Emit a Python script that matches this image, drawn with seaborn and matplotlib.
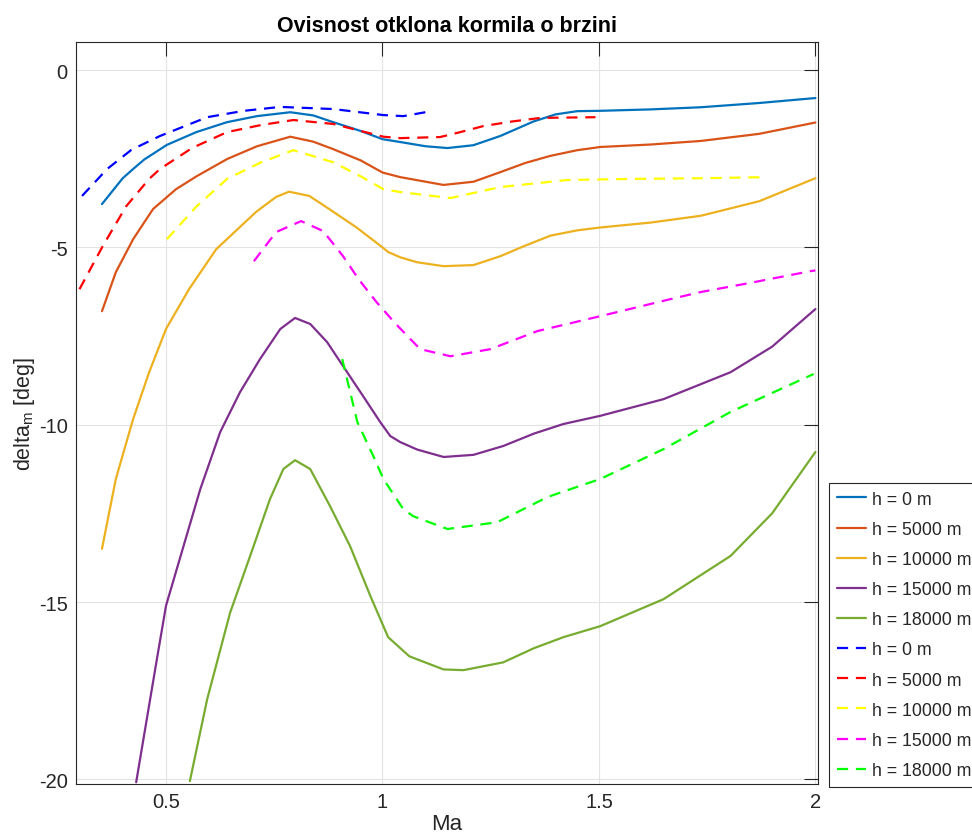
"""Rudder deflection vs Mach number for several altitudes."""

import matplotlib

matplotlib.use("Agg")
import matplotlib.pyplot as plt
import seaborn as sns

# solid curves (model 1)
ma_h0 = [0.352, 0.40, 0.424, 0.45, 0.502, 0.57, 0.641, 0.71, 0.787, 0.84, 0.886, 0.95, 1.0, 1.041, 1.10, 1.150, 1.21, 1.272, 1.349, 1.40, 1.450, 1.503, 1.62, 1.735, 1.87, 2.0]
dm_h0 = [-3.78, -3.05, -2.79, -2.52, -2.11, -1.75, -1.47, -1.30, -1.19, -1.28, -1.47, -1.72, -1.95, -2.03, -2.15, -2.20, -2.12, -1.86, -1.45, -1.25, -1.16, -1.15, -1.11, -1.05, -0.93, -0.79]

ma_h5 = [0.352, 0.384, 0.424, 0.470, 0.523, 0.57, 0.641, 0.71, 0.787, 0.84, 0.886, 0.95, 1.0, 1.041, 1.141, 1.21, 1.272, 1.330, 1.388, 1.45, 1.503, 1.62, 1.735, 1.87, 2.0]
dm_h5 = [-6.80, -5.70, -4.77, -3.92, -3.36, -3.00, -2.51, -2.15, -1.88, -2.02, -2.23, -2.55, -2.89, -3.02, -3.24, -3.15, -2.88, -2.62, -2.42, -2.26, -2.17, -2.10, -2.00, -1.80, -1.48]

ma_h10 = [0.352, 0.384, 0.424, 0.461, 0.5, 0.553, 0.616, 0.708, 0.754, 0.784, 0.831, 0.877, 0.939, 1.0, 1.013, 1.041, 1.08, 1.141, 1.21, 1.272, 1.330, 1.388, 1.45, 1.503, 1.62, 1.735, 1.87, 2.0]
dm_h10 = [-13.5, -11.53, -9.84, -8.52, -7.30, -6.18, -5.05, -4.00, -3.58, -3.43, -3.55, -3.92, -4.43, -5.00, -5.13, -5.28, -5.42, -5.53, -5.50, -5.25, -4.95, -4.67, -4.52, -4.44, -4.30, -4.11, -3.70, -3.05]

ma_h15 = [0.431, 0.479, 0.5, 0.579, 0.625, 0.671, 0.717, 0.764, 0.798, 0.833, 0.872, 0.909, 0.955, 0.995, 1.018, 1.041, 1.08, 1.141, 1.21, 1.279, 1.35, 1.418, 1.503, 1.649, 1.804, 1.90, 2.0]
dm_h15 = [-20.08, -16.6, -15.1, -11.82, -10.21, -9.08, -8.15, -7.30, -6.99, -7.16, -7.67, -8.35, -9.19, -9.93, -10.32, -10.49, -10.70, -10.91, -10.85, -10.6, -10.25, -9.98, -9.75, -9.28, -8.52, -7.80, -6.74]

ma_h18 = [0.555, 0.595, 0.648, 0.694, 0.740, 0.771, 0.798, 0.833, 0.879, 0.925, 0.972, 0.995, 1.013, 1.062, 1.141, 1.187, 1.279, 1.35, 1.418, 1.503, 1.649, 1.804, 1.90, 2.0]
dm_h18 = [-20.05, -17.74, -15.3, -13.71, -12.10, -11.25, -11.0, -11.25, -12.30, -13.42, -14.83, -15.48, -15.99, -16.53, -16.90, -16.92, -16.7, -16.3, -15.99, -15.68, -14.92, -13.7, -12.5, -10.77]

# dashed curves (model 2)
ma_d0 = [0.306, 0.364, 0.42, 0.486, 0.595, 0.68, 0.764, 0.886, 1.002, 1.048, 1.099]
dm_d0 = [-3.55, -2.79, -2.25, -1.86, -1.33, -1.15, -1.04, -1.10, -1.27, -1.30, -1.19]

ma_d5 = [0.300, 0.354, 0.408, 0.461, 0.486, 0.56, 0.641, 0.72, 0.794, 0.886, 1.002, 1.041, 1.133, 1.18, 1.233, 1.30, 1.365, 1.492]
dm_d5 = [-6.18, -4.96, -3.84, -3.07, -2.79, -2.20, -1.75, -1.55, -1.41, -1.52, -1.88, -1.92, -1.89, -1.75, -1.58, -1.45, -1.35, -1.33]

ma_d10 = [0.502, 0.57, 0.641, 0.72, 0.794, 0.886, 0.95, 1.002, 1.041, 1.157, 1.272, 1.427, 1.58, 1.74, 1.885]
dm_d10 = [-4.77, -3.85, -3.07, -2.60, -2.26, -2.60, -3.00, -3.36, -3.44, -3.61, -3.30, -3.10, -3.07, -3.05, -3.02]

ma_d15 = [0.703, 0.754, 0.812, 0.863, 0.909, 0.945, 0.986, 1.030, 1.087, 1.157, 1.249, 1.358, 1.503, 1.665, 1.735, 1.85, 1.989, 2.0]
dm_d15 = [-5.39, -4.57, -4.26, -4.54, -5.25, -5.90, -6.54, -7.15, -7.87, -8.07, -7.87, -7.36, -6.94, -6.46, -6.26, -6.00, -5.67, -5.65]

ma_d18 = [0.907, 0.942, 0.979, 1.002, 1.048, 1.071, 1.150, 1.265, 1.381, 1.503, 1.649, 1.804, 1.996]
dm_d18 = [-8.15, -9.93, -10.89, -11.53, -12.38, -12.58, -12.94, -12.75, -12.04, -11.53, -10.69, -9.64, -8.57]

labels = ["h = 0 m", "h = 5000 m", "h = 10000 m", "h = 15000 m", "h = 18000 m"]
solid_series = [(ma_h0, dm_h0), (ma_h5, dm_h5), (ma_h10, dm_h10), (ma_h15, dm_h15), (ma_h18, dm_h18)]
dashed_series = [(ma_d0, dm_d0), (ma_d5, dm_d5), (ma_d10, dm_d10), (ma_d15, dm_d15), (ma_d18, dm_d18)]
solid_colors = ["#0072BD", "#D95319", "#EDB120", "#7E2F8E", "#77AC30"]
dashed_colors = ["#0000FF", "#FF0000", "#FFFF00", "#FF00FF", "#00FF00"]

sns.set_style("white")
plt.rcParams["font.family"] = ["Liberation Sans", "DejaVu Sans"]

fig = plt.figure(figsize=(9.72, 8.37), dpi=100)
ax = fig.add_axes([76 / 972, 1 - 785 / 837, 742 / 972, 742 / 837])

for (x, y), c, lab in zip(solid_series, solid_colors, labels):
    sns.lineplot(x=x, y=y, ax=ax, color=c, linewidth=1.6, label=lab, sort=False)
for (x, y), c, lab in zip(dashed_series, dashed_colors, labels):
    sns.lineplot(x=x, y=y, ax=ax, color=c, linewidth=1.6, label=lab, sort=False,
                 linestyle=(0, (5, 3.5)))

ax.set_xlim(0.292, 2.006)
ax.set_ylim(-20.13, 0.79)
ax.set_xticks([0.5, 1, 1.5, 2])
ax.set_xticklabels(["0.5", "1", "1.5", "2"])
ax.set_yticks([0, -5, -10, -15, -20])
ax.set_yticklabels(["0", "-5", "-10", "-15", "-20"])
ax.grid(True, color="#e3e3e3", linewidth=0.8)
ax.tick_params(direction="in", length=10, width=0.8, colors="#262626",
               labelsize=14.5, top=True, right=True, pad=6)
for s in ax.spines.values():
    s.set_color("#262626")
    s.set_linewidth(0.8)

ax.set_title("Ovisnost otklona kormila o brzini", fontsize=15.5, fontweight="bold",
             color="black", pad=8)
ax.set_xlabel("Ma", fontsize=16, color="#262626", labelpad=1)
ax.set_ylabel("delta$_{\\mathregular{m}}$ [deg]", fontsize=15.5, color="#262626", labelpad=1)

handles, labs = ax.get_legend_handles_labels()
ax.legend_.remove()
leg = fig.legend(handles, labs, loc="lower left", bbox_to_anchor=(829 / 972, 1 - 788 / 837),
                 borderaxespad=0, fontsize=12.8, frameon=True, fancybox=False,
                 edgecolor="#262626", framealpha=1, labelspacing=0.74, handlelength=1.65,
                 handletextpad=0.3, borderpad=0.45)
leg.get_frame().set_linewidth(0.8)

fig.savefig("out.png", dpi=100)
